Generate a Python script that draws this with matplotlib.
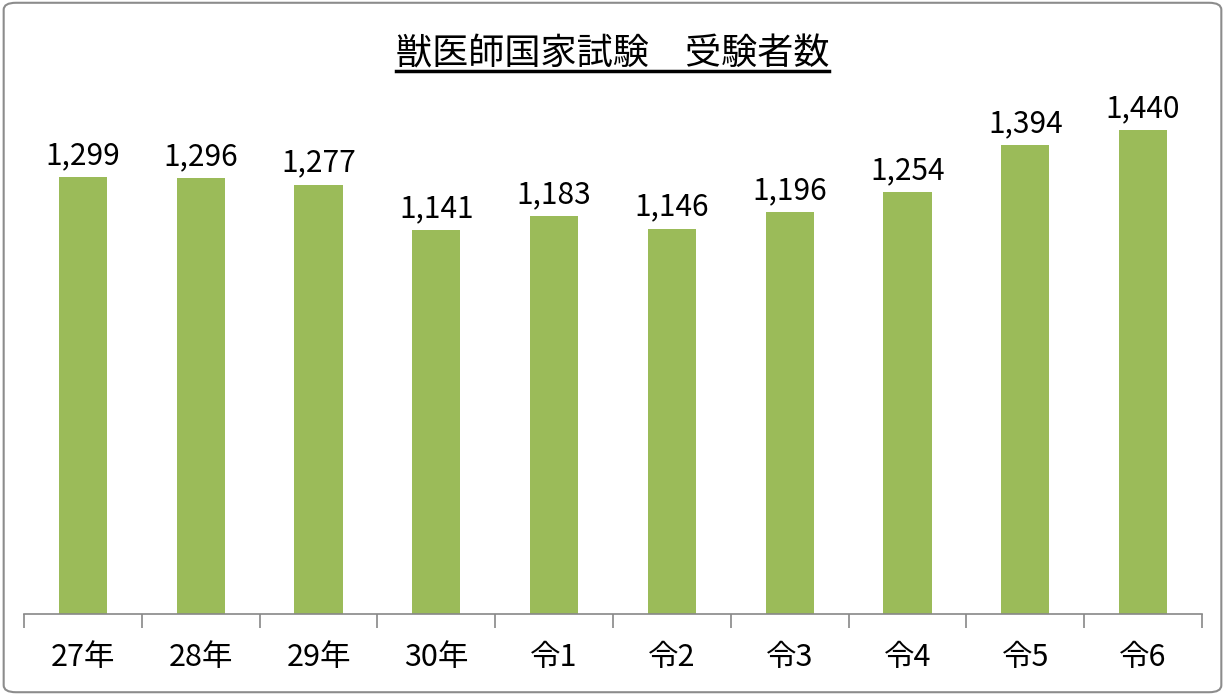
import matplotlib
matplotlib.use("Agg")
import matplotlib.pyplot as plt
from matplotlib.patches import FancyBboxPatch
from matplotlib.lines import Line2D

plt.rcParams['font.family'] = ['Noto Sans CJK JP', 'DejaVu Sans']

# データ
categories = ["27年", "28年", "29年", "30年", "令1", "令2", "令3", "令4", "令5", "令6"]
examinees = [1299, 1296, 1277, 1141, 1183, 1146, 1196, 1254, 1394, 1440]
title = "獣医師国家試験　受験者数"

fig = plt.figure(figsize=(12.25, 6.95), dpi=100)
ax = fig.add_axes([0.0196, 0.1165, 0.9616, 0.774])

x = range(len(categories))
bars = ax.bar(x, examinees, width=0.41, color="#9BBB59")
for i, v in enumerate(examinees):
    ax.text(i, v + 18, f"{v:,}", ha="center", va="bottom", fontsize=21.5)

ax.set_xlim(-0.5, len(categories) - 0.5)
ax.set_ylim(0, 1600)
ax.set_yticks([])
for s in ["top", "right", "left"]:
    ax.spines[s].set_visible(False)
ax.spines["bottom"].set_color("#888888")
ax.spines["bottom"].set_linewidth(1.2)

# 目盛りはカテゴリの境界に
ax.set_xticks([i - 0.5 for i in range(len(categories) + 1)], minor=False)
ax.set_xticklabels([])
ax.tick_params(axis="x", which="major", length=10, color="#888888", width=1.2)
ax.set_xticks(list(x), minor=True)
ax.set_xticklabels(categories, minor=True, fontsize=22)
ax.tick_params(axis="x", which="minor", length=0, pad=20)

# タイトル(下線付き)
t = fig.text(0.5, 0.922, title, ha="center", va="center", fontsize=26)
fig.canvas.draw()
bb = t.get_window_extent(renderer=fig.canvas.get_renderer())
fw, fh = fig.bbox.width, fig.bbox.height
y_line = (bb.y0 + 1) / fh
fig.add_artist(Line2D([bb.x0 / fw, bb.x1 / fw], [y_line, y_line],
                      color="black", linewidth=2.5, transform=fig.transFigure))

# 外枠
frame = FancyBboxPatch((0.003, 0.004), 0.994, 0.992,
                       boxstyle="round,pad=0,rounding_size=0.01",
                       transform=fig.transFigure, fill=False,
                       edgecolor="#8c8c8c", linewidth=1.5)
fig.add_artist(frame)

fig.savefig("out.png", dpi=100)
